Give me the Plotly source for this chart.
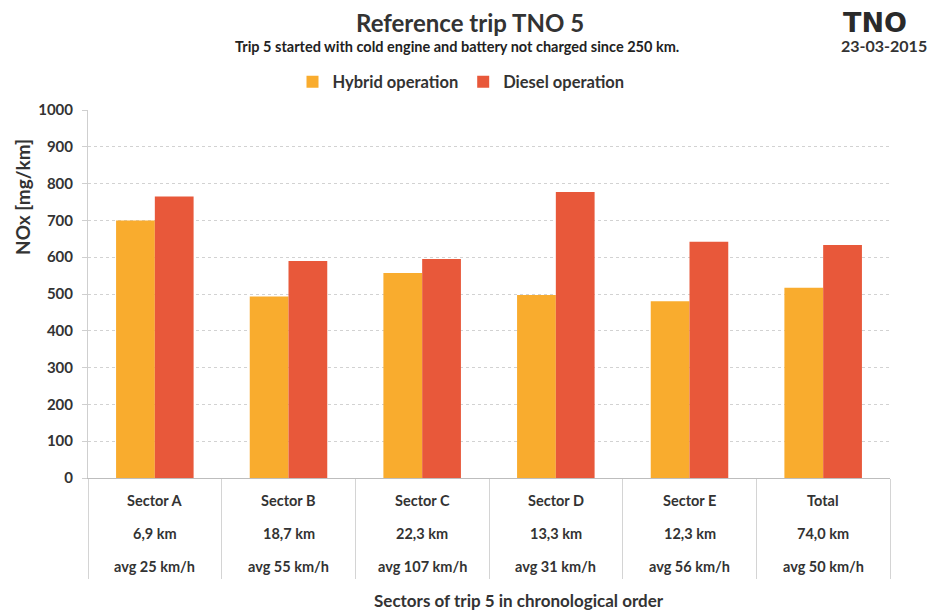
import plotly.graph_objects as go

sectors = ["Sector A", "Sector B", "Sector C", "Sector D", "Sector E", "Total"]
distances = ["6,9 km", "18,7 km", "22,3 km", "13,3 km", "12,3 km", "74,0 km"]
speeds = ["avg 25 km/h", "avg 55 km/h", "avg 107 km/h", "avg 31 km/h", "avg 56 km/h", "avg 50 km/h"]
hybrid = [700, 493, 557, 497, 480, 517]
diesel = [765, 590, 595, 777, 642, 633]
y_ticks = [0, 100, 200, 300, 400, 500, 600, 700, 800, 900, 1000]

FONT = "Lato"
TXT = "#333333"

# plot area in pixels: x 88..890, y 110..478
L, R, T, B = 88, 890, 110, 478
def px(x):
    return (x - L) / (R - L)
def py(y):
    return (B - y) / (B - T)

fig = go.Figure()
fig.add_trace(go.Bar(name="Hybrid operation", x=sectors, y=hybrid,
                     marker=dict(color="#F9AC2E", line=dict(width=0))))
fig.add_trace(go.Bar(name="Diesel operation", x=sectors, y=diesel,
                     marker=dict(color="#E8583A", line=dict(width=0))))

fig.update_layout(
    width=931, height=610,
    paper_bgcolor="white", plot_bgcolor="white",
    margin=dict(l=L, r=931 - R, t=T, b=610 - B),
    barmode="group", bargap=0.42, bargroupgap=0,
    font=dict(family=FONT, color=TXT, weight="bold"),
    showlegend=True,
    legend=dict(orientation="h", x=px(461), xanchor="center", y=py(82), yanchor="middle",
                font=dict(size=16.5, family=FONT, color=TXT, weight="bold"),
                traceorder="normal", itemwidth=30,
                bgcolor="rgba(0,0,0,0)"),
)

fig.update_yaxes(range=[0, 1000], tickvals=y_ticks, showgrid=True,
                 gridcolor="#d2d2d2", griddash="dot", gridwidth=1,
                 showline=True, linecolor="#cfcfcf", linewidth=1,
                 ticks="outside", ticklen=5, tickcolor="#cfcfcf",
                 ticklabelstandoff=6,
                 tickfont=dict(size=15, family=FONT, color=TXT, weight="bold"),
                 zeroline=False)

fig.update_xaxes(showticklabels=False, ticks="outside", tickson="boundaries",
                 ticklen=100, tickcolor="#d4d4d4", tickwidth=1,
                 showline=True, linecolor="#bdbdbd", linewidth=1,
                 showgrid=False)

for s, d, v in zip(sectors, distances, speeds):
    for txt, shift in ((s, -22), (d, -55), (v, -88)):
        fig.add_annotation(x=s, y=0, xref="x", yref="paper", text=txt, showarrow=False,
                           yshift=shift, yanchor="middle",
                           font=dict(size=14.5, family=FONT, color=TXT, weight="bold"))

fig.add_annotation(x=px(519), y=py(600), xref="paper", yref="paper",
                   text="Sectors of trip 5 in chronological order", showarrow=False,
                   xanchor="center", yanchor="middle",
                   font=dict(size=17, family=FONT, color=TXT, weight="bold"))

fig.add_annotation(x=px(22), y=py(197), xref="paper", yref="paper",
                   text="NOx [mg/km]", textangle=-90, showarrow=False,
                   xanchor="center", yanchor="middle",
                   font=dict(size=19, family=FONT, color=TXT, weight="bold"))

fig.add_annotation(x=px(470), y=py(22), xref="paper", yref="paper",
                   text="Reference trip TNO 5", showarrow=False, xanchor="center", yanchor="middle",
                   font=dict(size=24, family=FONT, color=TXT, weight="bold"))
fig.add_annotation(x=px(457), y=py(47), xref="paper", yref="paper",
                   text="Trip 5 started with cold engine and battery not charged since 250 km.",
                   showarrow=False, xanchor="center", yanchor="middle",
                   font=dict(size=14.5, family=FONT, color="#222222", weight="bold"))
fig.add_annotation(x=px(875), y=py(22), xref="paper", yref="paper",
                   text="TNO", showarrow=False, xanchor="center", yanchor="middle",
                   font=dict(size=27, family="DejaVu Sans", color="#2a2a2a", weight="bold"))
fig.add_annotation(x=px(884), y=py(45), xref="paper", yref="paper",
                   text="23-03-2015", showarrow=False, xanchor="center", yanchor="middle",
                   font=dict(size=16, family=FONT, color="#333333", weight="bold"))

fig.write_html("out.html", config={"displayModeBar": False},
               post_script="document.body.style.margin='0';")
